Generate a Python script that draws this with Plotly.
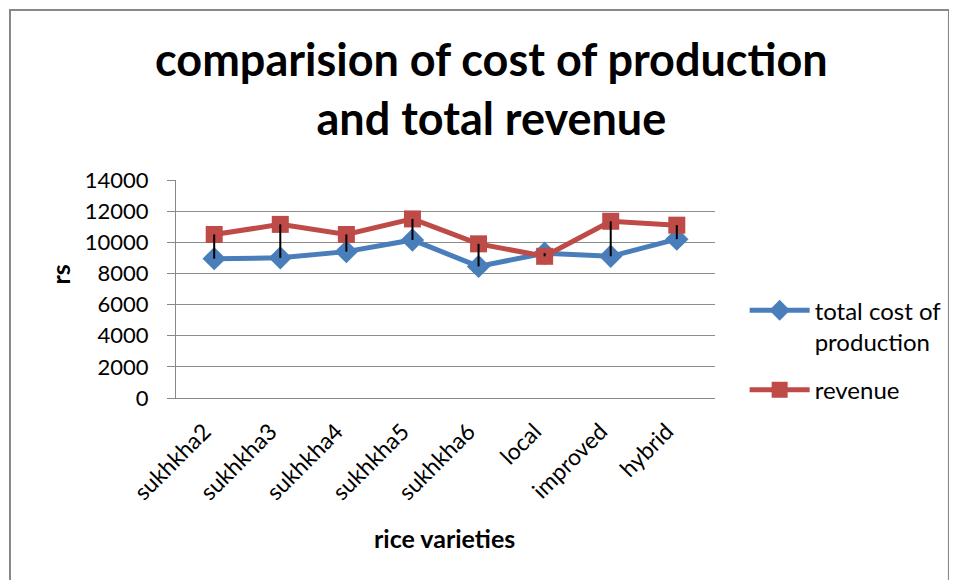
import plotly.graph_objects as go

varieties = ['sukhkha2', 'sukhkha3', 'sukhkha4', 'sukhkha5', 'sukhkha6', 'local', 'improved', 'hybrid']
total_cost = [8950, 9000, 9400, 10150, 8450, 9300, 9100, 10200]
revenue = [10500, 11150, 10500, 11500, 9900, 9100, 11350, 11100]
y_ticks = [0, 2000, 4000, 6000, 8000, 10000, 12000, 14000]

FONT = 'Lato'
BLUE = '#4A7EBB'
RED = '#BE4B48'
GRAY = '#888888'

# high-low lines between the two series
hx, hy = [], []
for v, c, r in zip(varieties, total_cost, revenue):
    hx += [v, v, None]
    hy += [c, r, None]

fig = go.Figure()
fig.add_trace(go.Scatter(
    x=varieties, y=total_cost, mode='lines+markers',
    name='total cost of<br>production', legendgroup='cost',
    line=dict(color=BLUE, width=5),
    marker=dict(symbol='diamond', size=18, color=BLUE)
))
fig.add_trace(go.Scatter(
    x=varieties, y=revenue, mode='lines+markers',
    name='revenue', legendgroup='rev',
    line=dict(color=RED, width=5),
    marker=dict(symbol='square', size=17, color=RED)
))
fig.add_trace(go.Scatter(
    x=hx, y=hy, mode='lines', showlegend=False, hoverinfo='skip',
    line=dict(color='black', width=2)
))

# the page body adds an 8px offset, so margins are shifted to compensate
fig.update_layout(
    width=957, height=580,
    margin=dict(l=168, r=250, t=172, b=190),
    paper_bgcolor='white', plot_bgcolor='white',
    font=dict(family=FONT, color='black', size=21),
    xaxis=dict(
        tickangle=-45, tickfont=dict(size=23), showgrid=False, automargin=False,
        showline=True, linecolor=GRAY, linewidth=1, ticks='',
        ticklabelstandoff=10, ticklabelshift=-10
    ),
    yaxis=dict(
        range=[0, 14000], tickvals=y_ticks, tickformat='d', tickfont=dict(size=22),
        showgrid=True, gridcolor='#8c8c8c', gridwidth=1, automargin=False,
        showline=True, linecolor=GRAY, linewidth=1, ticklabelstandoff=14,
        ticks='outside', ticklen=8, tickcolor=GRAY, zeroline=False
    ),
    legend=dict(
        x=1.055, y=0.504, xanchor='left', yanchor='top', valign='top',
        font=dict(size=24), tracegroupgap=14, itemwidth=60,
        bgcolor='rgba(0,0,0,0)'
    ),
    annotations=[
        dict(text='<b>comparision of cost of production<br>and total revenue</b>',
             xref='paper', yref='paper', x=0.586, y=1.418, xanchor='center', yanchor='middle',
             showarrow=False, font=dict(family=FONT, size=45, color='black')),
        dict(text='<b>rs</b>', xref='paper', yref='paper', x=-0.216, y=0.564,
             xanchor='center', yanchor='middle',
             textangle=-90, showarrow=False, font=dict(size=25)),
        dict(text='<b>rice varieties</b>', xref='paper', yref='paper', x=0.499, y=-0.642,
             xanchor='center', yanchor='middle', showarrow=False, font=dict(size=25)),
    ],
    shapes=[dict(
        type='rect', xref='paper', yref='paper',
        x0=-0.308, x1=1.434, y0=-0.95, y1=1.78,
        line=dict(color=GRAY, width=2), fillcolor='rgba(0,0,0,0)', layer='below'
    )]
)

fig.write_html('out.html')
